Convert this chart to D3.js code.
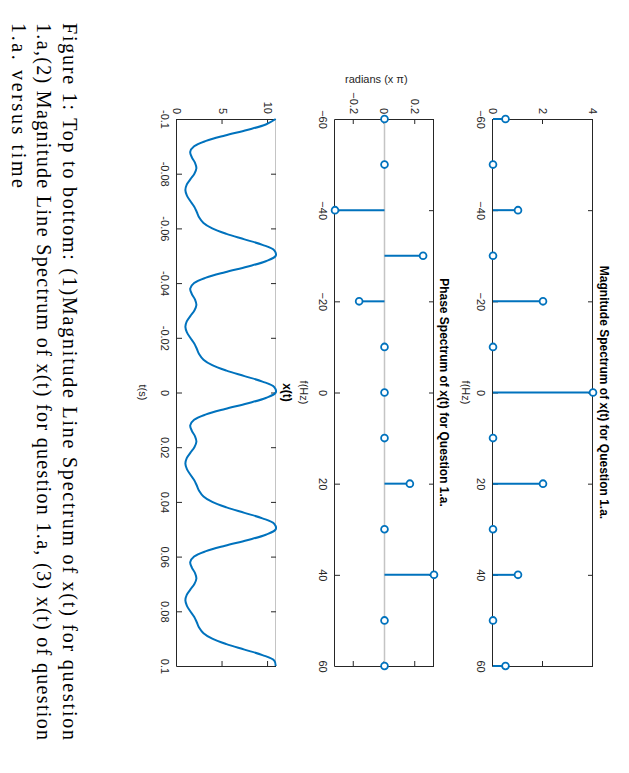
<!DOCTYPE html>
<html>
<head>
<meta charset="utf-8">
<script src="https://cdn.jsdelivr.net/npm/d3@7"></script>
<style>
html,body{margin:0;padding:0;background:#fff;}
svg{display:block;}
</style>
</head>
<body>
<script>
// ---------------- data ----------------
const freqs = [-60,-50,-40,-30,-20,-10,0,10,20,30,40,50,60];
const magnitude = [0.5,0,1,0,2,0,4,0,2,0,1,0,0.5];
const phase = [0,0,-0.322,0.251,-0.165,0,0,0,0.165,0,0.322,0,0];
const freqTicks = [-60,-40,-20,0,20,40,60];
const magTicks = [0,2,4];
const phaseTicks = [-0.2,0,0.2];
const timeTicks = [-0.1,-0.08,-0.06,-0.04,-0.02,0,0.02,0.04,0.06,0.08,0.1];
const timeTickLabels = ["-0.1","-0.08","-0.06","-0.04","-0.02","0","0.02","0.04","0.06","0.08","0.1"];
const xtTicks = [0,5,10];
const tStart = -0.1, tStep = 0.002;
const xt = [
 10.84,9.75,7.69,5.28,3.19,1.88,1.45,1.63,1.98,2.13,1.91,1.48,1.07,0.92,1.09,1.46,1.88,2.17,2.44,2.91,3.87,5.43,7.41,9.38,10.68,
 10.84,9.75,7.69,5.28,3.19,1.88,1.45,1.63,1.98,2.13,1.91,1.48,1.07,0.92,1.09,1.46,1.88,2.17,2.44,2.91,3.87,5.43,7.41,9.38,10.68,
 10.84,9.75,7.69,5.28,3.19,1.88,1.45,1.63,1.98,2.13,1.91,1.48,1.07,0.92,1.09,1.46,1.88,2.17,2.44,2.91,3.87,5.43,7.41,9.38,10.68,
 10.84,9.75,7.69,5.28,3.19,1.88,1.45,1.63,1.98,2.13,1.91,1.48,1.07,0.92,1.09,1.46,1.88,2.17,2.44,2.91,3.87,5.43,7.41,9.38,10.68,
 10.84
];
const captionLines = [
 "Figure 1: Top to bottom: (1)Magnitude Line Spectrum of x(t) for question",
 "1.a,(2) Magnitude Line Spectrum of x(t) for question 1.a, (3) x(t) of question",
 "1.a. versus time"
];

// ---------------- layout (unrotated page: 773 wide x 629 tall) ----------------
const W = 629, H = 773;
const blue = "#0072BD", axisCol = "#262626";
const uL = 119, uR = 666;
const svg = d3.select("body").append("svg").attr("width", W).attr("height", H);
const root = svg.append("g").attr("transform", `translate(${W},0) rotate(90)`);

const fontSans = "'Liberation Sans', Arial, Helvetica, sans-serif";

function drawAxes(g, x, y, xTicks, xFmt, yTicks, yFmt, topColor) {
  const [y0, y1] = y.range(); // bottom, top
  g.append("g").attr("transform", `translate(0,${y0})`)
    .call(d3.axisBottom(x).tickValues(xTicks).tickFormat(xFmt).tickSizeInner(-5).tickSizeOuter(0).tickPadding(8));
  g.append("g").attr("transform", `translate(0,${y1})`)
    .call(d3.axisTop(x).tickValues(xTicks).tickFormat("").tickSizeInner(-5).tickSizeOuter(0))
    .attr("class", "topax");
  g.append("g").attr("transform", `translate(${uL},0)`)
    .call(d3.axisLeft(y).tickValues(yTicks).tickFormat(yFmt).tickSizeInner(-5).tickSizeOuter(0).tickPadding(5));
  g.append("g").attr("transform", `translate(${uR},0)`)
    .call(d3.axisRight(y).tickValues(yTicks).tickFormat("").tickSizeInner(-5).tickSizeOuter(0));
  g.selectAll(".domain").attr("stroke", axisCol).attr("stroke-width", 1);
  g.selectAll(".tick line").attr("stroke", axisCol).attr("stroke-width", 1);
  g.selectAll(".tick text").attr("fill", axisCol).style("font-family", fontSans).style("font-size", "11px");
  if (topColor) g.select(".topax .domain").attr("stroke", topColor);
}

function title(g, text, v) {
  g.append("text").attr("x", (uL + uR) / 2).attr("y", v).attr("text-anchor", "middle")
    .style("font-family", fontSans).style("font-size", "12px").style("font-weight", "bold")
    .attr("fill", "#000").text(text);
}
function xlabel(g, text, v) {
  g.append("text").attr("x", (uL + uR) / 2).attr("y", v).attr("text-anchor", "middle")
    .style("font-family", fontSans).style("font-size", "11px").attr("fill", axisCol).text(text);
}

function stems(g, x, y, vals, baseline) {
  const d = freqs.map((f, i) => ({f, v: vals[i]}));
  if (baseline) {
    g.append("line").attr("x1", uL).attr("x2", uR).attr("y1", y(0)).attr("y2", y(0))
      .attr("stroke", "#c4c4c4").attr("stroke-width", 1.5);
  }
  g.selectAll("line.stem").data(d).join("line").attr("class", "stem")
    .attr("x1", p => x(p.f)).attr("x2", p => x(p.f))
    .attr("y1", y(0)).attr("y2", p => y(p.v))
    .attr("stroke", blue).attr("stroke-width", 2);
  g.selectAll("circle.mk").data(d).join("circle").attr("class", "mk")
    .attr("cx", p => x(p.f)).attr("cy", p => y(p.v)).attr("r", 3.4)
    .attr("fill", "#fff").attr("stroke", blue).attr("stroke-width", 1.8);
}

// ---- Plot 1: magnitude ----
const g1 = root.append("g");
const x1 = d3.scaleLinear().domain([-60, 60]).range([uL, uR]);
const y1 = d3.scaleLinear().domain([0, 4]).range([136, 36]);
drawAxes(g1, x1, y1, freqTicks, d3.format("d"), magTicks, d3.format("d"));
stems(g1, x1, y1, magnitude, false);
title(g1, "Magnitude Spectrum of x(t) for Question 1.a.", 29);
xlabel(g1, "f(Hz)", 167);

// ---- Plot 2: phase ----
const g2 = root.append("g");
const x2 = d3.scaleLinear().domain([-60, 60]).range([uL, uR]);
const y2 = d3.scaleLinear().domain([-0.322, 0.322]).range([294, 195]);
drawAxes(g2, x2, y2, freqTicks, d3.format("d"), phaseTicks, d => d === 0 ? "0" : d3.format(".1f")(d));
stems(g2, x2, y2, phase, true);
title(g2, "Phase Spectrum of x(t) for Question 1.a.", 189);
xlabel(g2, "f(Hz)", 329);
g2.append("text").attr("transform", `translate(83,284) rotate(-90)`).attr("text-anchor", "start")
  .style("font-family", fontSans).style("font-size", "11px").attr("fill", axisCol)
  .text("radians (x \u03C0)");

// ---- Plot 3: x(t) ----
const g3 = root.append("g");
const x3 = d3.scaleLinear().domain([-0.1, 0.1]).range([uL, uR]);
const y3 = d3.scaleLinear().domain([0, 10.87]).range([452, 353]);
drawAxes(g3, x3, y3, timeTicks, (d, i) => timeTickLabels[i], xtTicks, d3.format("d"), "#c4c4c4");
const line = d3.line().x((d, i) => x3(tStart + i * tStep)).y(d => y3(d)).curve(d3.curveCatmullRom.alpha(0.5));
g3.append("path").datum(xt).attr("d", line).attr("fill", "none").attr("stroke", blue).attr("stroke-width", 2);
title(g3, "x(t)", 346);
xlabel(g3, "t(s)", 490);

// ---- Caption ----
const capV = [566, 592, 617];
const capLen = [717, 717, 165];
captionLines.forEach((s, i) => {
  root.append("text").attr("x", 23).attr("y", capV[i])
    .attr("textLength", capLen[i]).attr("lengthAdjust", "spacing")
    .style("font-family", "'Liberation Serif', 'Times New Roman', serif").style("font-size", "20px")
    .attr("fill", "#000").text(s);
});
</script>
</body>
</html>
